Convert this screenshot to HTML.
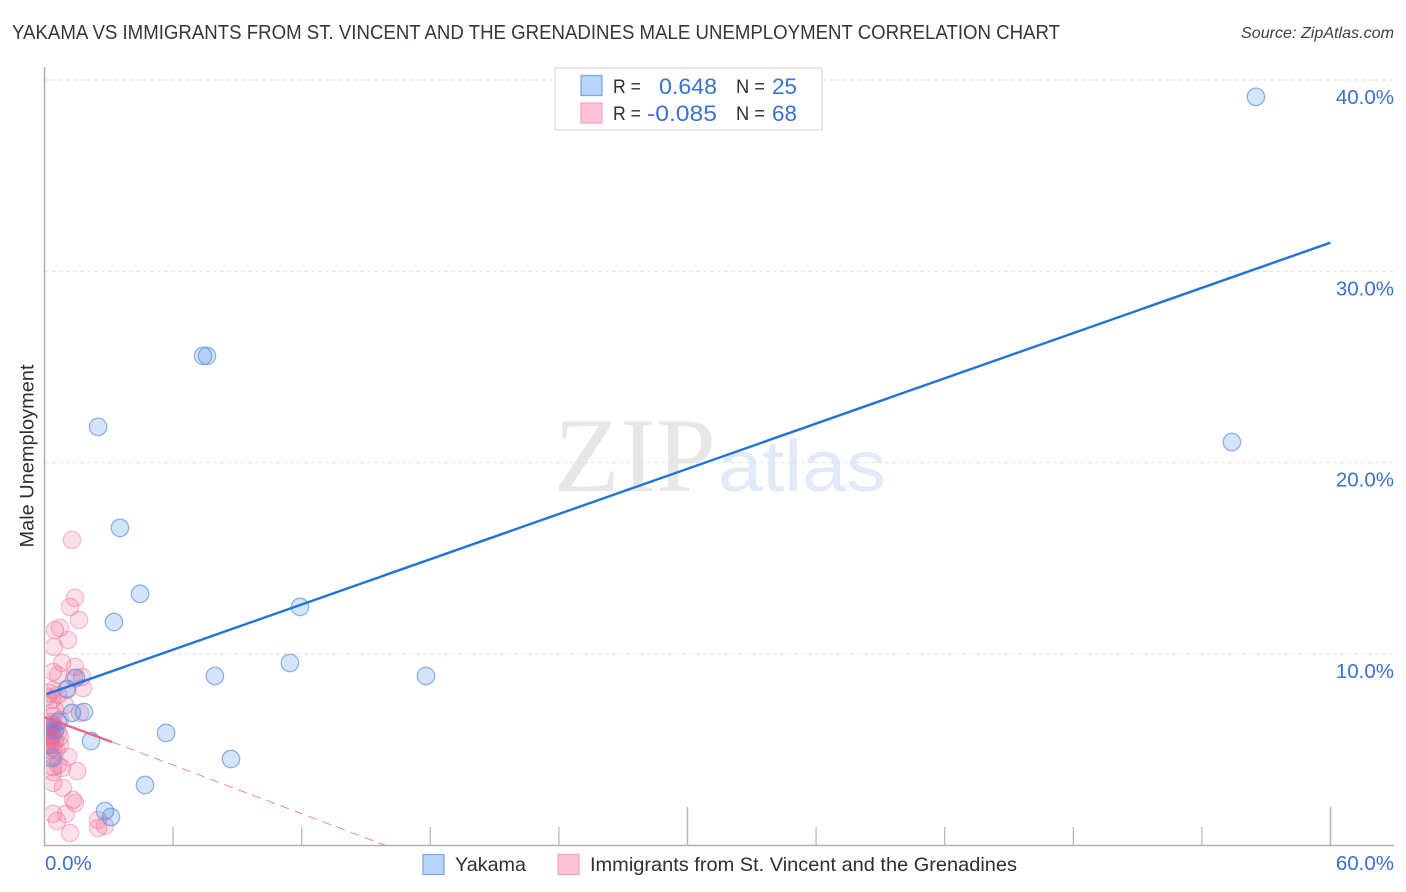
<!DOCTYPE html>
<html lang="en">
<head>
<meta charset="utf-8">
<title>Yakama vs Immigrants from St. Vincent and the Grenadines Male Unemployment Correlation Chart</title>
<style>
html,body{margin:0;padding:0;background:#fff;width:1406px;height:892px;overflow:hidden}
svg{display:block;font-family:"Liberation Sans",sans-serif}
</style>
</head>
<body>
<svg id="chart" width="1406" height="892" viewBox="0 0 1406 892" xmlns="http://www.w3.org/2000/svg">
  <defs>
    <clipPath id="plot-clip"><rect x="46" y="60" width="1348" height="786"/></clipPath>
  </defs>
  <rect x="0" y="0" width="1406" height="892" fill="#ffffff"/>
  <text x="12" y="39" font-size="20" fill="#33373e" textLength="1048" lengthAdjust="spacingAndGlyphs">YAKAMA VS IMMIGRANTS FROM ST. VINCENT AND THE GRENADINES MALE UNEMPLOYMENT CORRELATION CHART</text>
  <text x="1394" y="38" font-size="16" font-style="italic" fill="#3c4048" text-anchor="end" textLength="153" lengthAdjust="spacingAndGlyphs">Source: ZipAtlas.com</text>
  <g>
    <text x="554" y="491" font-family="'Liberation Serif',serif" font-size="106" fill="#e7e7e7" textLength="162" lengthAdjust="spacingAndGlyphs">ZIP</text>
    <text x="718" y="491" font-family="'Liberation Sans',Arial,sans-serif" font-size="72" fill="#e0eafa" textLength="168" lengthAdjust="spacingAndGlyphs">atlas</text>
  </g>
  <g id="grid"></g>
  <g id="axes"></g>
  <g id="pink-points" clip-path="url(#plot-clip)"></g>
  <g id="blue-points" clip-path="url(#plot-clip)"></g>
  <g id="trends"></g>
  <g id="tick-labels"></g>
  <text transform="translate(33.5,456) rotate(-90)" font-size="19" fill="#2b2f36" text-anchor="middle" textLength="183" lengthAdjust="spacingAndGlyphs">Male Unemployment</text>

  <g>
    <rect x="555" y="68" width="267" height="62" fill="#ffffff" stroke="#e0e0e0" stroke-width="1.5"/>
    <rect x="581" y="75.5" width="21" height="20" fill="#b8d4f8" stroke="#7aa5e2" stroke-width="1.2"/>
    <rect x="581" y="103" width="21" height="20" fill="#fdc3d6" stroke="#f2a0bb" stroke-width="1.2"/>
    <text x="613" y="93" font-size="19" fill="#2b2f36" textLength="28" lengthAdjust="spacingAndGlyphs">R =</text>
    <text x="659" y="94" font-size="22" fill="#3b71cf" textLength="58" lengthAdjust="spacingAndGlyphs">0.648</text>
    <text x="736" y="93" font-size="19" fill="#2b2f36" textLength="29" lengthAdjust="spacingAndGlyphs">N =</text>
    <text x="772" y="94" font-size="22" fill="#3b71cf" textLength="25" lengthAdjust="spacingAndGlyphs">25</text>
    <text x="613" y="120" font-size="19" fill="#2b2f36" textLength="28" lengthAdjust="spacingAndGlyphs">R =</text>
    <text x="647" y="121" font-size="22" fill="#3b71cf" textLength="70" lengthAdjust="spacingAndGlyphs">-0.085</text>
    <text x="736" y="120" font-size="19" fill="#2b2f36" textLength="29" lengthAdjust="spacingAndGlyphs">N =</text>
    <text x="772" y="121" font-size="22" fill="#3b71cf" textLength="25" lengthAdjust="spacingAndGlyphs">68</text>
  </g>

  <g>
    <rect x="423" y="854.5" width="21" height="20" fill="#b8d4f8" stroke="#7aa5e2" stroke-width="1.2"/>
    <text x="455" y="871" font-size="19.5" fill="#2b2f36" textLength="71" lengthAdjust="spacingAndGlyphs">Yakama</text>
    <rect x="558" y="854.5" width="21" height="20" fill="#fdc3d6" stroke="#f2a0bb" stroke-width="1.2"/>
    <text x="590" y="871" font-size="19.5" fill="#2b2f36" textLength="427" lengthAdjust="spacingAndGlyphs">Immigrants from St. Vincent and the Grenadines</text>
  </g>
</svg>
<script>
const yTickValues = [10, 20, 30, 40];
const yTickLabels = ["10.0%", "20.0%", "30.0%", "40.0%"];
const xTickValues = [0, 6, 12, 18, 24, 30, 36, 42, 48, 54, 60];
const xEndValues = [0, 60];
const xEndLabels = ["0.0%", "60.0%"];

const yakamaX = [56.52, 55.4, 7.4, 7.58, 2.5, 3.52, 4.46, 3.24, 11.92, 11.45, 7.95, 17.8, 5.67, 8.7, 4.69, 2.82, 3.1, 2.17, 1.84, 1.28, 0.63, 1.05, 1.47, 0.49, 0.35];
const yakamaY = [39.12, 21.08, 25.58, 25.58, 21.87, 16.59, 13.14, 11.67, 12.46, 9.53, 8.85, 8.85, 5.87, 4.51, 3.15, 1.79, 1.48, 5.45, 6.97, 6.92, 6.45, 8.17, 8.75, 5.97, 4.56];

const immigrantsX = [1.28, 1.42, 1.19, 1.61, 0.49, 0.72, 1.1, 0.44, 0.82, 1.42, 0.4, 1.75, 0.63, 1.38, 1.8, 1.05, 0.4, 0.26, 0.63, 0.35, 0.96, 0.26, 0.49, 1.66, 0.3, 0.4, 0.72, 0.3, 0.25, 0.54, 0.4, 0.3, 0.63, 0.2, 0.35, 0.72, 0.25, 0.49, 0.3, 0.4, 0.54, 1.1, 0.44, 0.63, 0.4, 0.82, 1.52, 0.4, 0.4, 0.86, 1.33, 1.42, 0.4, 0.58, 1, 1.19, 2.5, 2.5, 2.82, 0.16, 0.3, 0.2, 0.3, 0.15, 0.35, 0.25, 0.72, 0.3];
const immigrantsY = [15.96, 12.93, 12.46, 11.78, 11.25, 11.36, 10.73, 10.37, 9.53, 9.32, 9.06, 8.8, 8.9, 8.75, 8.22, 8.12, 8.12, 7.96, 7.86, 7.6, 7.33, 6.2, 7.07, 6.92, 6, 6.76, 6.55, 6.45, 6.18, 6.13, 6.03, 5.87, 5.87, 5.77, 5.71, 5.66, 5.5, 5.45, 5.24, 5.09, 4.98, 4.62, 4.62, 4.2, 4.09, 4.04, 3.88, 3.83, 3.26, 3, 2.37, 2.21, 1.64, 1.27, 1.64, 0.64, 1.32, 0.9, 1.01, 7.76, 5.9, 6.03, 5.6, 5.24, 6.3, 5, 5.24, 6.1];

const yakamaTrendX = [0.1, 60];
const yakamaTrendY = [7.9, 31.5];
const immigrantsSolidX = [0, 3.15];
const immigrantsSolidY = [6.7, 5.4];
const immigrantsDashX = [3.15, 15.9];
const immigrantsDashY = [5.4, 0];

const NS = "http://www.w3.org/2000/svg";
function xScale(v) { return 44.5 + v * (1330.5 - 44.5) / 60; }
function yScale(v) { return 845.3 - v * (845.3 - 80) / 40; }
function make(tag, parent, props) {
  const el = document.createElementNS(NS, tag);
  for (const k in props) el.setAttribute(k, props[k]);
  parent.appendChild(el);
  return el;
}

const gridGroup = document.getElementById("grid");
yTickValues.forEach(function (v) {
  const el = make("line", gridGroup, { x1: 45, x2: 1394, y1: yScale(v), y2: yScale(v), stroke: "#e2e2e2", "stroke-width": 1, "stroke-dasharray": "4 3" });
  
  
});

const axesGroup = document.getElementById("axes");
const yAxisLine = make("line", axesGroup, { x1: 44.5, x2: 44.5, y1: 67, y2: 846, stroke: "#b0b0b0", "stroke-width": 1.5 });


const xAxisLine = make("line", axesGroup, { x1: 44, x2: 1394, y1: 845.5, y2: 845.5, stroke: "#b0b0b0", "stroke-width": 1.5 });


xTickValues.forEach(function (v) {
  if (v === 0) return;
  const major = v % 30 === 0;
  const el = make("line", axesGroup, { x1: xScale(v), x2: xScale(v), y1: major ? 807 : 827, y2: 845, stroke: "#b4b4b4", "stroke-width": major ? 1.5 : 1.2 });
  
  
});

const pinkGroup = document.getElementById("pink-points");
immigrantsX.forEach(function (v, i) {
  const el = make("circle", pinkGroup, { cx: xScale(v), cy: yScale(immigrantsY[i]), r: 8.7, fill: "#f0608f", "fill-opacity": 0.2, stroke: "#ee7ea1", "stroke-opacity": 0.5, "stroke-width": 1.2 });
  
  
});

const blueGroup = document.getElementById("blue-points");
yakamaX.forEach(function (v, i) {
  const el = make("circle", blueGroup, { cx: xScale(v), cy: yScale(yakamaY[i]), r: 8.7, fill: "#2f7be0", "fill-opacity": 0.2, stroke: "#6a9be0", "stroke-opacity": 0.75, "stroke-width": 1.3 });
  
  
});

const trendGroup = document.getElementById("trends");
const blueTrend = make("line", trendGroup, { x1: xScale(yakamaTrendX[0]), y1: yScale(yakamaTrendY[0]), x2: xScale(yakamaTrendX[1]), y2: yScale(yakamaTrendY[1]), stroke: "#2272dc", "stroke-width": 2.4 });


const pinkDash = make("line", trendGroup, { x1: xScale(immigrantsDashX[0]), y1: yScale(immigrantsDashY[0]), x2: xScale(immigrantsDashX[1]), y2: yScale(immigrantsDashY[1]), stroke: "#e9648e", "stroke-width": 1, "stroke-dasharray": "9 6", "stroke-opacity": 0.8 });


const pinkSolid = make("line", trendGroup, { x1: xScale(immigrantsSolidX[0]), y1: yScale(immigrantsSolidY[0]), x2: xScale(immigrantsSolidX[1]), y2: yScale(immigrantsSolidY[1]), stroke: "#e9648e", "stroke-width": 2.4 });



const labelGroup = document.getElementById("tick-labels");
yTickValues.forEach(function (v, i) {
  const el = make("text", labelGroup, { x: 1394, y: yScale(v) + 24, "font-size": 20.5, fill: "#3b71cf", "text-anchor": "end" });
  el.textContent = yTickLabels[i];
  
  
});
xEndValues.forEach(function (v, i) {
  const el = make("text", labelGroup, { x: i === 0 ? 45 : 1394, y: 870, "font-size": 20.5, fill: "#3b71cf", "text-anchor": i === 0 ? "start" : "end" });
  el.textContent = xEndLabels[i];
  
  
});
</script>
</body>
</html>
